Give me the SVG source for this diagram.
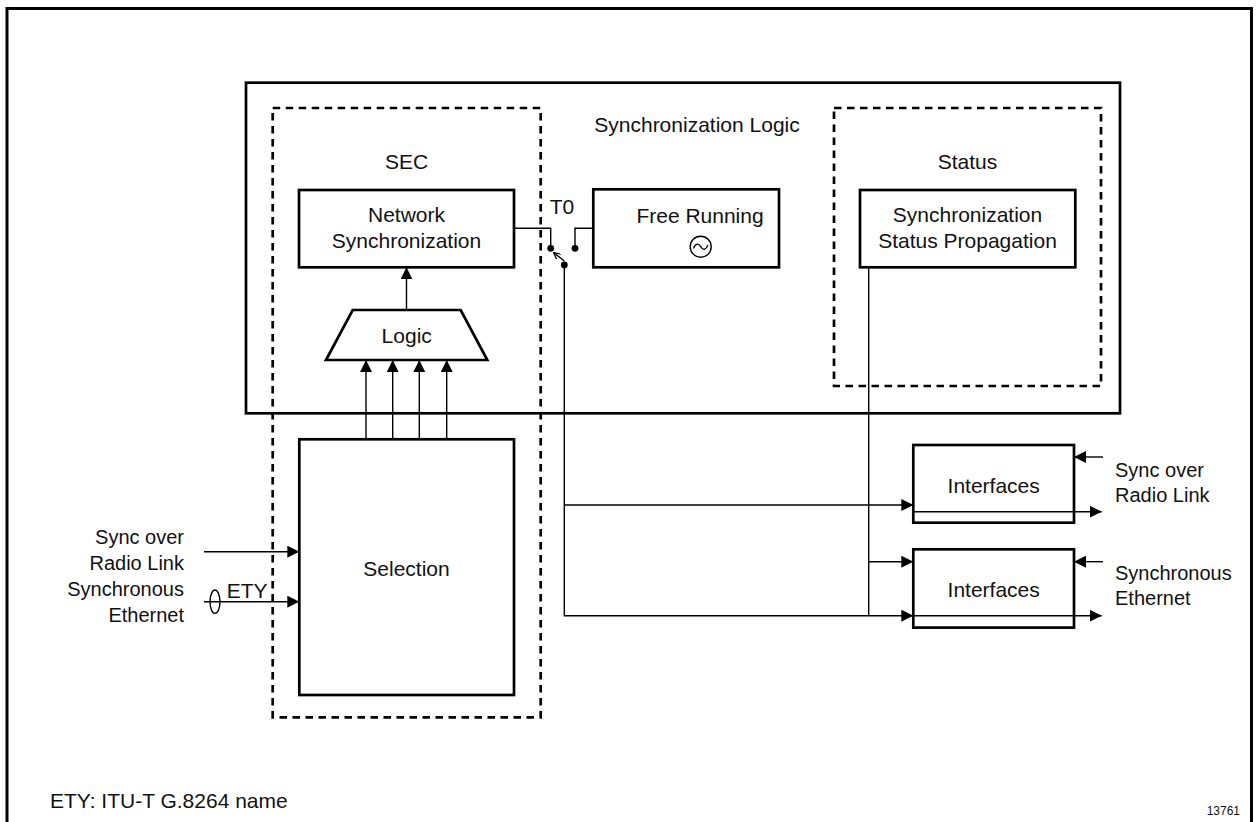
<svg xmlns="http://www.w3.org/2000/svg" width="1256" height="822" viewBox="0 0 1256 822">
  <style>
    .box { fill: #fff; stroke: #000; stroke-width: 2.7; }
    .dash { fill: none; stroke: #000; stroke-width: 2.7; stroke-dasharray: 7.5 5.5; }
    .wire { fill: none; stroke: #000; stroke-width: 1.4; }
    .lbl { font-family: "Liberation Sans", Arial, sans-serif; font-size: 21px; fill: #111; }
    .side { font-family: "Liberation Sans", Arial, sans-serif; font-size: 20px; fill: #111; }
    .mid { text-anchor: middle; }
    .end { text-anchor: end; }
    .dot { fill: #000; }
  </style>
  <defs>
    <marker id="arrow" viewBox="0 0 12 12" refX="12" refY="6" markerWidth="12" markerHeight="12" markerUnits="userSpaceOnUse" orient="auto">
      <path d="M0,0 L12,6 L0,12 z" fill="#000"/>
    </marker>
    <marker id="tick" viewBox="0 0 8 8" refX="8" refY="4" markerWidth="7" markerHeight="7" markerUnits="userSpaceOnUse" orient="auto">
      <path d="M0,0 L8,4 L0,8" fill="none" stroke="#000" stroke-width="1.4"/>
    </marker>
  </defs>

  <!-- page frame (open at the bottom) -->
  <path d="M7,830 V8.5 H1251.5 V830" fill="none" stroke="#000" stroke-width="3"/>

  <!-- synchronization logic container -->
  <g id="sync-logic">
    <rect x="246" y="82.7" width="874" height="330.6" fill="none" stroke="#000" stroke-width="2.7"/>
    <text class="lbl mid" x="697" y="132">Synchronization Logic</text>
  </g>

  <!-- SEC group -->
  <g id="sec">
    <rect class="dash" x="272.7" y="108" width="268" height="609.3"/>
    <text class="lbl mid" x="406.5" y="169.3">SEC</text>
  </g>

  <!-- status group -->
  <g id="status">
    <rect class="dash" x="834" y="108" width="267" height="278"/>
    <text class="lbl mid" x="967.5" y="169.3">Status</text>
  </g>

  <g id="network-sync">
    <rect class="box" x="299" y="190" width="215" height="77.3"/>
    <text class="lbl mid" x="406.5" y="221.7">Network</text>
    <text class="lbl mid" x="406.5" y="247.5">Synchronization</text>
  </g>

  <g id="free-running">
    <rect class="box" x="593.3" y="189.3" width="185.7" height="78"/>
    <text class="lbl mid" x="700" y="223">Free Running</text>
    <circle cx="700.7" cy="246.7" r="10.5" fill="none" stroke="#000" stroke-width="1.4"/>
    <path d="M693.5,248.5 C695.5,243 698.5,243 700.7,246.7 C702.9,250.4 705.9,250.4 707.9,244.9" fill="none" stroke="#000" stroke-width="1.3"/>
  </g>

  <g id="status-propagation">
    <rect class="box" x="860" y="190" width="215.3" height="77.3"/>
    <text class="lbl mid" x="967.5" y="221.7">Synchronization</text>
    <text class="lbl mid" x="967.5" y="247.5">Status Propagation</text>
  </g>

  <g id="logic">
    <polygon class="box" points="352.7,310 460.7,310 487.3,360 326,360"/>
    <text class="lbl mid" x="406.7" y="342.7">Logic</text>
  </g>

  <g id="selection">
    <rect class="box" x="299.3" y="439.3" width="214.7" height="255.7"/>
    <text class="lbl mid" x="406.5" y="575.5">Selection</text>
  </g>

  <g id="interfaces-radio">
    <rect class="box" x="913.3" y="445" width="160.7" height="77.7"/>
    <text class="lbl mid" x="993.7" y="493">Interfaces</text>
  </g>

  <g id="interfaces-ethernet">
    <rect class="box" x="913.3" y="549.3" width="160.7" height="78.3"/>
    <text class="lbl mid" x="993.7" y="596.7">Interfaces</text>
  </g>

  <!-- T0 selector switch -->
  <g id="t0-switch">
    <text class="lbl mid" x="562" y="214">T0</text>
    <circle class="dot" cx="550.7" cy="248.3" r="3.4"/>
    <circle class="dot" cx="575" cy="248.3" r="3.4"/>
    <circle class="dot" cx="564.3" cy="265" r="3.4"/>
  </g>

  <g id="connectors">
    <!-- switch wiring -->
    <path class="wire" d="M514,228.3 H550.7 V248.3"/>
    <path class="wire" d="M593.3,228.3 H575 V248.3"/>
    <line class="wire" x1="564.3" y1="261" x2="553.5" y2="252.5" marker-end="url(#tick)"/>

    <!-- logic to network synchronization -->
    <line class="wire" x1="406.5" y1="310" x2="406.5" y2="267.3" marker-end="url(#arrow)"/>

    <!-- selection to logic -->
    <line class="wire" x1="366" y1="439.3" x2="366" y2="360" marker-end="url(#arrow)"/>
    <line class="wire" x1="392.7" y1="439.3" x2="392.7" y2="360" marker-end="url(#arrow)"/>
    <line class="wire" x1="419.3" y1="439.3" x2="419.3" y2="360" marker-end="url(#arrow)"/>
    <line class="wire" x1="446.7" y1="439.3" x2="446.7" y2="360" marker-end="url(#arrow)"/>

    <!-- T0 distribution to interfaces -->
    <path class="wire" d="M564.3,265 V615.7 H913.3" marker-end="url(#arrow)"/>
    <line class="wire" x1="564.3" y1="505" x2="913.3" y2="505" marker-end="url(#arrow)"/>

    <!-- status propagation to ethernet interfaces -->
    <line class="wire" x1="868.7" y1="267.3" x2="868.7" y2="615.7"/>
    <line class="wire" x1="868.7" y1="561.7" x2="913.3" y2="561.7" marker-end="url(#arrow)"/>

    <!-- interface outputs -->
    <line class="wire" x1="913.3" y1="511.7" x2="1101.7" y2="511.7" marker-end="url(#arrow)"/>
    <line class="wire" x1="913.3" y1="615.7" x2="1101.7" y2="615.7" marker-end="url(#arrow)"/>

    <!-- interface inputs -->
    <line class="wire" x1="1103" y1="457" x2="1074" y2="457" marker-end="url(#arrow)"/>
    <line class="wire" x1="1103" y1="561.7" x2="1074" y2="561.7" marker-end="url(#arrow)"/>

    <!-- selection inputs -->
    <line class="wire" x1="204" y1="551.7" x2="299.3" y2="551.7" marker-end="url(#arrow)"/>
    <line class="wire" x1="204" y1="601.7" x2="299.3" y2="601.7" marker-end="url(#arrow)"/>
    <ellipse cx="215" cy="601.7" rx="5" ry="11.7" fill="none" stroke="#000" stroke-width="1.4"/>
  </g>

  <!-- input / output labels -->
  <g id="left-labels">
    <text class="side end" x="184" y="544">Sync over</text>
    <text class="side end" x="184" y="570">Radio Link</text>
    <text class="side end" x="184" y="596">Synchronous</text>
    <text class="side end" x="184" y="622">Ethernet</text>
    <text class="lbl" x="226.7" y="598.3">ETY</text>
  </g>
  <g id="right-labels">
    <text class="side" x="1115" y="477">Sync over</text>
    <text class="side" x="1115" y="502">Radio Link</text>
    <text class="side" x="1115" y="580">Synchronous</text>
    <text class="side" x="1115" y="605">Ethernet</text>
  </g>

  <text class="lbl" x="50" y="808.3">ETY: ITU-T G.8264 name</text>
  <text x="1240" y="815" text-anchor="end" font-family="Liberation Sans, Arial, sans-serif" font-size="12" fill="#111">13761</text>
</svg>
